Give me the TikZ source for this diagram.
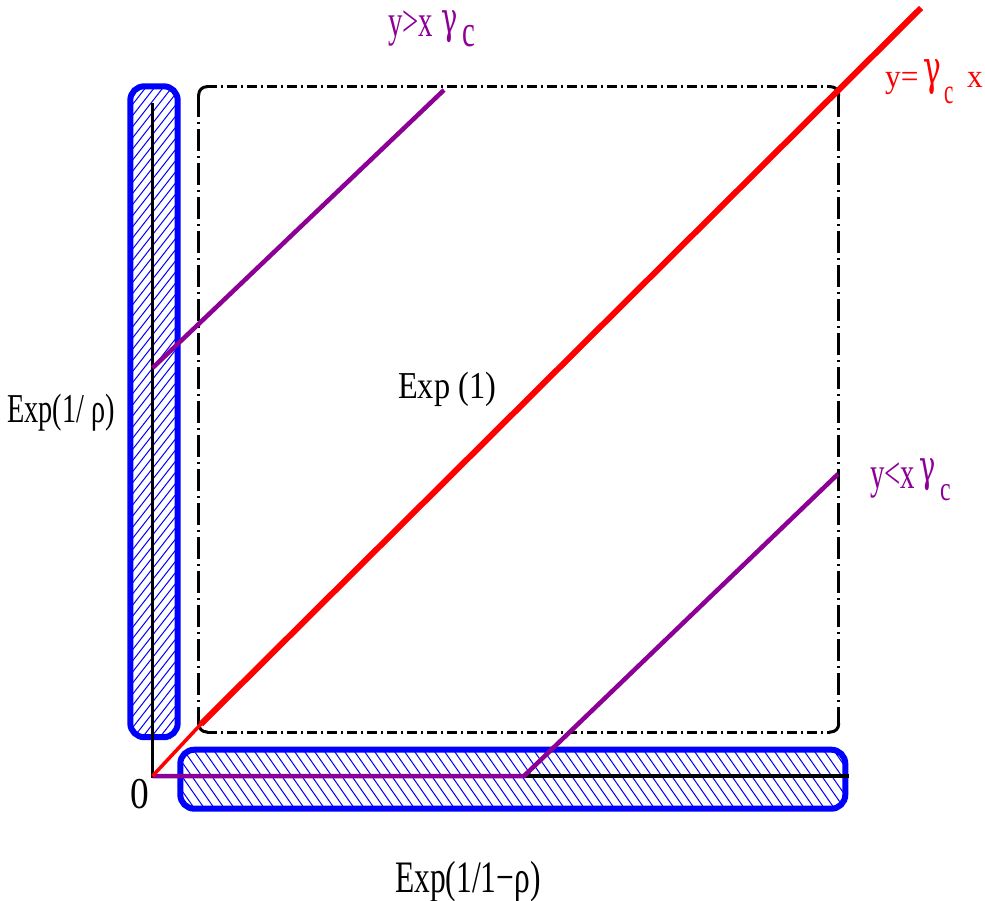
\documentclass[tikz,border=0pt]{standalone}
\usepackage{fontspec}
\setmainfont{Liberation Serif}
\newfontfamily\gfont{DejaVu Serif}
\definecolor{pur}{RGB}{140,0,150}
\definecolor{bl}{RGB}{0,0,255}
\definecolor{rd}{RGB}{255,0,0}
\newcommand\lab[3]{\fontsize{#1}{#1}\selectfont\raisebox{0pt}[0.45em][0pt]{\scalebox{#2}[1]{#3}}}
\newcommand\glab[2]{\fontsize{#1}{#1}\selectfont\gfont\raisebox{0pt}[0.45em][0pt]{\scalebox{#2}[1]{γ}}}
\begin{document}
\begin{tikzpicture}[x=1pt,y=-1pt,
  lbl/.style={inner sep=0pt, anchor=base west},
  bluebox/.style={draw=bl, line width=6pt, rounded corners=14pt},
  hatch/.style={draw=bl, line width=1pt},
  axisline/.style={draw=black, line width=3.5pt},
  purline/.style={draw=pur, line width=4.5pt},
  hdash/.style={draw=black, line width=3pt, dash pattern=on 10pt off 4pt on 2pt off 4pt},
  vdash/.style={draw=black, line width=3pt, dash pattern=on 22pt off 5pt on 2pt off 5pt},
  corner/.style={draw=black, line width=3pt, rounded corners=8pt}]
\useasboundingbox (0,0) rectangle (985,900);
% key points
\coordinate (O) at (152.5,776);
\coordinate (Ltop) at (152.5,103);
\coordinate (Xend) at (849,776);
\coordinate (Pk) at (524,776);
\coordinate (Pend) at (838,474);
\coordinate (Qs) at (152.5,368);
\coordinate (Qe) at (444,90);
\coordinate (Rj) at (201,724);
\coordinate (Re) at (921,8);
% left hatched box
\begin{scope}
  \clip[rounded corners=14pt] (130.3,86.3) rectangle (177.7,737.2);
  \foreach \i in {-62,...,8} \draw[hatch] (130+\i*8.7,742) -- ++(516,-660);
\end{scope}
\draw[bluebox] (130.3,86.3) rectangle (177.7,737.2);
% bottom hatched box
\begin{scope}
  \clip[rounded corners=14pt] (180.3,749.7) rectangle (845.3,808.7);
  \foreach \i in {-6,...,68} \draw[hatch] (180+\i*10,745) -- ++(49,70);
\end{scope}
\draw[bluebox] (180.3,749.7) rectangle (845.3,808.7);
% dash-dot box
\draw[hdash] (207,86.7) -- (830,86.7);
\draw[hdash] (207,732) -- (830,732);
\draw[vdash] (198.7,95) -- (198.7,724);
\draw[vdash] (838.7,95) -- (838.7,724);
\draw[corner] (198.7,96) -- (198.7,86.7) -- (208,86.7);
\draw[corner] (829,86.7) -- (838.7,86.7) -- (838.7,96);
\draw[corner] (198.7,723) -- (198.7,732) -- (208,732);
\draw[corner] (829,732) -- (838.7,732) -- (838.7,723);
% axes
\draw[axisline] (Ltop) -- (O) -- (Xend);
% purple lines
\draw[purline] (O) -- (Pk) -- (Pend);
\draw[purline] (Qs) -- (Qe);
% red line
\draw[rd, line width=3.5pt] (O) -- (Rj);
\draw[rd, line width=6pt] (Rj) -- (Re);
% labels
\node[lbl, text=pur] (t1) at (388,36) {\lab{45}{0.64}{y>x}};
\node[lbl, text=pur] (t1g) at (441,33) {\glab{44}{0.62}};
\node[lbl, text=pur] (t1c) at (462,46) {\lab{45}{0.64}{c}};
\node[lbl, text=pur] (t2) at (870,488) {\lab{45}{0.64}{y<x}};
\node[lbl, text=pur] (t2g) at (919,481) {\glab{44}{0.62}};
\node[lbl, text=pur] (t2c) at (940,500) {\lab{34}{0.7}{c}};
\node[lbl, text=rd] (t3) at (885,87) {\lab{33}{0.95}{y=}};
\node[lbl, text=rd] (t3g) at (923,84) {\glab{48}{0.62}};
\node[lbl, text=rd] (t3c) at (944,103) {\lab{35}{0.6}{c}};
\node[lbl, text=rd] (t3x) at (967,87) {\lab{33}{0.95}{x}};
\node[lbl] (e1) at (398,398) {\lab{38}{0.85}{Exp (1)}};
\node[lbl] (e2) at (7,422) {\lab{41}{0.69}{Exp(1/ ρ)}};
\node[lbl] (e3) at (395,892) {\lab{45}{0.70}{Exp(1/1−ρ)}};
\node[lbl] (zero) at (130,808) {\lab{44}{0.85}{0}};
\end{tikzpicture}
\end{document}
